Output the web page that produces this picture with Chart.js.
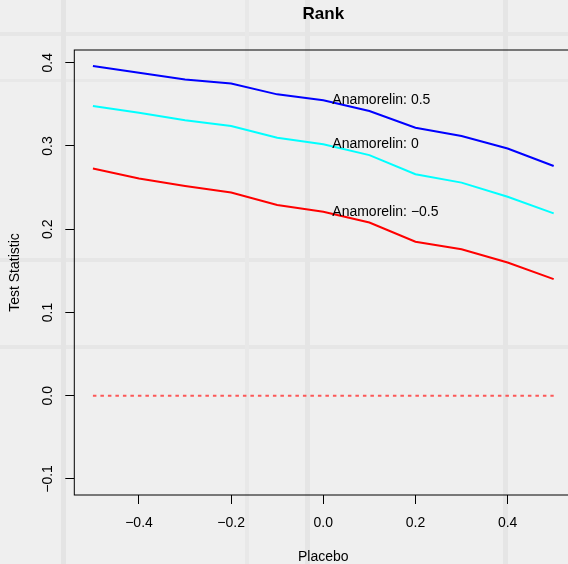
<!DOCTYPE html>
<html>
<head>
<meta charset="utf-8">
<script src="https://cdn.jsdelivr.net/npm/chart.js@4.4.1/dist/chart.umd.min.js"></script>
<style>
  html, body { margin: 0; padding: 0; overflow: hidden; width: 568px; height: 564px; }
  body {
    background-color: #efefef;
    background-image:
      linear-gradient(90deg, transparent 61px, #e4e4e4 61px, #e4e4e4 66px, transparent 66px),
      linear-gradient(90deg, transparent 245px, #e8e8e8 245px, #e8e8e8 249px, transparent 249px),
      linear-gradient(90deg, transparent 305px, #e5e5e5 305px, #e5e5e5 310px, transparent 310px),
      linear-gradient(90deg, transparent 503px, #e5e5e5 503px, #e5e5e5 508px, transparent 508px),
      linear-gradient(180deg, transparent 32px, #e6e6e6 32px, #e6e6e6 36px, transparent 36px),
      linear-gradient(180deg, transparent 79px, #e8e8e8 79px, #e8e8e8 82px, transparent 82px),
      linear-gradient(180deg, transparent 258px, #e6e6e6 258px, #e6e6e6 262px, transparent 262px),
      linear-gradient(180deg, transparent 345px, #e6e6e6 345px, #e6e6e6 349px, transparent 349px);
  }
  canvas { display: block; }
</style>
</head>
<body>
<canvas id="chart" width="580" height="564"></canvas>
<script>
// values
const placebo = [-0.5, -0.4, -0.3, -0.2, -0.1, 0.0, 0.1, 0.2, 0.3, 0.4, 0.5];
const anamorelinHigh = [0.396, 0.388, 0.380, 0.375, 0.362, 0.355, 0.342, 0.322, 0.312, 0.297, 0.276];
const anamorelinMid = [0.348, 0.340, 0.331, 0.324, 0.310, 0.302, 0.289, 0.266, 0.256, 0.239, 0.219];
const anamorelinLow = [0.273, 0.261, 0.252, 0.244, 0.229, 0.221, 0.208, 0.185, 0.176, 0.160, 0.140];
const zeroLine = [0, 0];
const zeroLineX = [-0.5, 0.5];
const xTicks = [-0.4, -0.2, 0.0, 0.2, 0.4];
const yTicks = [-0.1, 0.0, 0.1, 0.2, 0.3, 0.4];
const seriesLabels = ['Anamorelin: 0.5', 'Anamorelin: 0', 'Anamorelin: \u22120.5'];

const FONT = '"Liberation Sans", Arial, Helvetica, sans-serif';

function toPoints(xs, ys) {
    return xs.map((x, i) => ({ x: x, y: ys[i] }));
}

function fmt(v) {
    return (v < -1e-9 ? '\u2212' : '') + Math.abs(v).toFixed(1);
}

// box round the plot region, like R's box()
const boxPlugin = {
    id: 'box',
    afterDraw(chart) {
        const { ctx, chartArea: a } = chart;
        ctx.save();
        ctx.strokeStyle = '#000';
        ctx.lineWidth = 1;
        ctx.strokeRect(a.left, a.top, a.right - a.left, a.bottom - a.top);
        ctx.restore();
    }
};

// y tick labels drawn parallel to the axis
const yLabelPlugin = {
    id: 'yLabels',
    afterDraw(chart) {
        const { ctx } = chart;
        const y = chart.scales.y;
        ctx.save();
        ctx.font = '14px ' + FONT;
        ctx.fillStyle = '#000';
        ctx.textAlign = 'center';
        ctx.textBaseline = 'middle';
        yTicks.forEach(v => {
            ctx.save();
            ctx.translate(48.5, y.getPixelForValue(v));
            ctx.rotate(-Math.PI / 2);
            ctx.fillText(fmt(v), 0, 0);
            ctx.restore();
        });
        ctx.restore();
    }
};

// series names written next to each line at placebo = 0
const seriesTextPlugin = {
    id: 'seriesText',
    afterDatasetsDraw(chart) {
        const { ctx } = chart;
        const xs = chart.scales.x, ys = chart.scales.y;
        const idx = placebo.indexOf(0.0);
        const vals = [anamorelinHigh[idx], anamorelinMid[idx], anamorelinLow[idx]];
        ctx.save();
        ctx.font = '14px ' + FONT;
        ctx.fillStyle = '#000';
        ctx.textAlign = 'left';
        ctx.textBaseline = 'middle';
        vals.forEach((v, i) => {
            ctx.fillText(seriesLabels[i], xs.getPixelForValue(placebo[idx]) + 9, ys.getPixelForValue(v));
        });
        ctx.restore();
    }
};

const lineStyle = { fill: false, pointRadius: 0, tension: 0, borderWidth: 2 };

new Chart(document.getElementById('chart'), {
    type: 'line',
    data: {
        datasets: [
            { ...lineStyle, label: seriesLabels[0], data: toPoints(placebo, anamorelinHigh), borderColor: '#0000ff' },
            { ...lineStyle, label: seriesLabels[1], data: toPoints(placebo, anamorelinMid), borderColor: '#00ffff' },
            { ...lineStyle, label: seriesLabels[2], data: toPoints(placebo, anamorelinLow), borderColor: '#ff0000' },
            { ...lineStyle, label: 'zero', data: toPoints(zeroLineX, zeroLine), borderColor: 'rgba(255,50,50,0.8)', borderWidth: 2, borderDash: [3.5, 4] }
        ]
    },
    options: {
        responsive: false,
        animation: false,
        devicePixelRatio: 1,
        layout: { padding: { left: 0, right: 7.7, top: 0, bottom: 0 } },
        plugins: {
            legend: { display: false },
            tooltip: { enabled: false },
            title: {
                display: true,
                text: 'Rank',
                fullSize: false,
                color: '#000',
                font: { family: FONT, size: 17, weight: 'bold', lineHeight: 1.2 },
                padding: { top: 4.5, bottom: 25.1 }
            }
        },
        scales: {
            x: {
                type: 'linear',
                min: -0.5404,
                max: 0.5404,
                afterBuildTicks: s => { s.ticks = xTicks.map(v => ({ value: v })); },
                afterFit: s => { s.height = 69; },
                grid: { drawOnChartArea: false, drawTicks: true, tickLength: 9, tickColor: '#000' },
                border: { display: false },
                ticks: {
                    color: '#000',
                    padding: 11,
                    maxRotation: 0,
                    font: { family: FONT, size: 14, lineHeight: 1.2 },
                    callback: v => fmt(v)
                },
                title: {
                    display: true,
                    text: 'Placebo',
                    color: '#000',
                    font: { family: FONT, size: 14, lineHeight: 1.2 },
                    padding: { top: 0, bottom: -2 }
                }
            },
            y: {
                type: 'linear',
                min: -0.1193,
                max: 0.4153,
                afterBuildTicks: s => { s.ticks = yTicks.map(v => ({ value: v })); },
                afterFit: s => { s.width = 74.3; },
                grid: { drawOnChartArea: false, drawTicks: true, tickLength: 9, tickColor: '#000' },
                border: { display: false },
                ticks: { display: false },
                title: {
                    display: true,
                    text: 'Test Statistic',
                    color: '#000',
                    font: { family: FONT, size: 14, lineHeight: 1.2 },
                    padding: { top: 6.6, bottom: 0 }
                }
            }
        }
    },
    plugins: [boxPlugin, yLabelPlugin, seriesTextPlugin]
});
</script>
</body>
</html>
